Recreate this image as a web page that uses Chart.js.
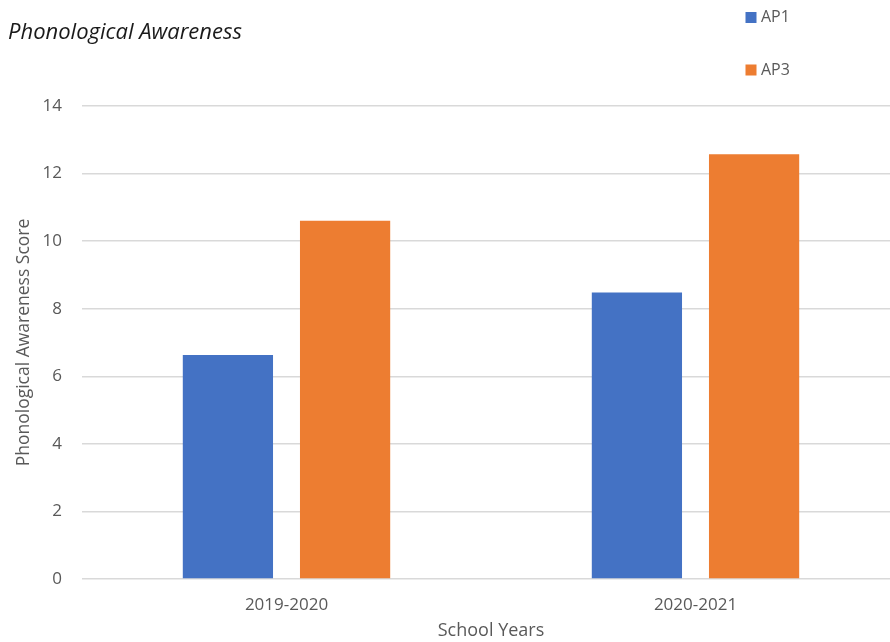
<!DOCTYPE html>
<html>
<head>
<meta charset="utf-8">
<script src="https://cdn.jsdelivr.net/npm/chart.js@4"></script>
<style>
  html, body { margin: 0; padding: 0; background: #fff; overflow: hidden; }
  #wrap { position: relative; width: 900px; height: 642px; }
</style>
</head>
<body>
<div id="wrap"><canvas id="graph"></canvas></div>
<script>
const ctx = document.getElementById('graph').getContext('2d');

// Scores per school year
const years = ['2019-2020', '2020-2021'];
const ap1Scores = [6.63, 8.48];
const ap3Scores = [10.6, 12.57];

const textColor = '#595959';
const fontFamily = '"Open Sans", "Noto Sans", sans-serif';

// Legend stacked in the top right corner, one row per dataset
const cornerLegend = {
    id: 'cornerLegend',
    afterDraw(chart) {
        const c = chart.ctx;
        const rows = [17.5, 70];
        c.save();
        c.font = '16px ' + fontFamily;
        c.textBaseline = 'middle';
        c.textAlign = 'left';
        chart.data.datasets.forEach((ds, i) => {
            const y = rows[i];
            c.fillStyle = ds.backgroundColor;
            c.fillRect(745.5, y - 5.5, 11, 11);
            c.fillStyle = textColor;
            c.fillText(ds.label, 761, y);
        });
        c.restore();
    }
};

const chart = new Chart(ctx, {
    type: 'bar',
    data: {
        labels: years,
        datasets: [
            {
                label: 'AP1',
                data: ap1Scores,
                backgroundColor: '#4472c4',
                categoryPercentage: 0.573,
                barPercentage: 0.77,
            },
            {
                label: 'AP3',
                data: ap3Scores,
                backgroundColor: '#ed7d31',
                categoryPercentage: 0.573,
                barPercentage: 0.77,
            },
        ],
    },
    options: {
        responsive: true,
        maintainAspectRatio: false,
        animation: false,
        layout: { padding: { left: 8, right: 0, top: 0, bottom: 0 } },
        plugins: {
            legend: { display: false },
            tooltip: { enabled: false },
            title: {
                display: true,
                text: 'Phonological Awareness',
                align: 'start',
                color: '#1a1a1a',
                font: { family: fontFamily, size: 22, style: 'italic', weight: 'normal' },
                padding: { top: 19.8, bottom: 59.8 },
            },
        },
        scales: {
            x: {
                grid: { display: false },
                border: { display: false },
                ticks: {
                    color: textColor,
                    font: { family: fontFamily, size: 17 },
                    padding: 8,
                },
                title: {
                    display: true,
                    text: 'School Years',
                    color: textColor,
                    font: { family: fontFamily, size: 18 },
                    padding: { top: 4, bottom: 0 },
                },
                afterFit(scale) { scale.height = 63; },
            },
            y: {
                min: 0,
                max: 14,
                ticks: {
                    stepSize: 2,
                    color: textColor,
                    font: { family: fontFamily, size: 17 },
                    padding: 20,
                },
                grid: { color: '#d9d9d9', lineWidth: 1.5, drawTicks: false },
                border: { display: false },
                title: {
                    display: true,
                    text: 'Phonological Awareness Score',
                    color: textColor,
                    font: { family: fontFamily, size: 17.5 },
                    padding: { top: 6, bottom: 0 },
                },
                afterFit(scale) { scale.width = 74; },
            },
        },
    },
    plugins: [cornerLegend],
});
</script>
</body>
</html>
